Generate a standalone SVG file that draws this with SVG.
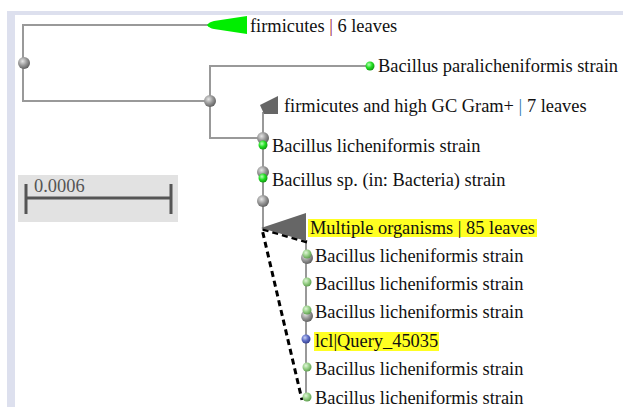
<svg xmlns="http://www.w3.org/2000/svg" width="623" height="407" viewBox="0 0 623 407">
  <defs>
    <radialGradient id="gGray" cx="0.38" cy="0.35" r="0.7">
      <stop offset="0" stop-color="#e6e6e6"/>
      <stop offset="0.5" stop-color="#9a9a9a"/>
      <stop offset="1" stop-color="#5a5a5a"/>
    </radialGradient>
    <radialGradient id="gGreen" cx="0.38" cy="0.35" r="0.7">
      <stop offset="0" stop-color="#b8ffb8"/>
      <stop offset="0.5" stop-color="#22e022"/>
      <stop offset="1" stop-color="#109010"/>
    </radialGradient>
    <radialGradient id="gPale" cx="0.38" cy="0.35" r="0.7">
      <stop offset="0" stop-color="#e0f5d8"/>
      <stop offset="0.5" stop-color="#98d088"/>
      <stop offset="1" stop-color="#5a9a4a"/>
    </radialGradient>
    <radialGradient id="gBlue" cx="0.38" cy="0.35" r="0.7">
      <stop offset="0" stop-color="#c8d0f5"/>
      <stop offset="0.5" stop-color="#6070c8"/>
      <stop offset="1" stop-color="#303a88"/>
    </radialGradient>
  </defs>
  <style>
    .br { stroke: #999; stroke-width: 2; fill: none; }
    .lbl { font-family: "Liberation Serif", "Times New Roman", serif; font-size: 18.4px; fill: #111; }
    .node { fill: url(#gGray); }
    .leaf { fill: url(#gGreen); }
    .pale { fill: url(#gPale); }
    .qry { fill: url(#gBlue); }
    .hl { fill: #ffff22; }
    .dash { stroke: #000; stroke-width: 3; stroke-dasharray: 6 4; fill: none; }
  </style>

  <rect width="623" height="407" fill="#fff"/>
  <!-- panel frame -->
  <rect x="7" y="11" width="616" height="4" fill="#dde0ee"/>
  <rect x="7" y="11" width="8" height="396" fill="#dde0ee"/>

  <!-- scale bar -->
  <g id="scale">
    <rect x="18" y="175" width="160" height="47" fill="#e2e2e2"/>
    <line x1="27" y1="198" x2="170" y2="198" stroke="#555" stroke-width="3"/>
    <line x1="26" y1="184" x2="26" y2="214" stroke="#555" stroke-width="3"/>
    <line x1="171" y1="184" x2="171" y2="214" stroke="#555" stroke-width="3"/>
    <text x="34" y="192" class="lbl" style="fill:#555">0.0006</text>
  </g>

  <g id="connectors">
    <path class="br" d="M208,25 H23 V101 H210"/>
    <path class="br" d="M370,66 H210 V138 H263"/>
    <path class="br" d="M263,112 V230"/>
    <path class="br" d="M306,241 V398"/>
    <path class="dash" d="M307,242 L262,229 L302,400"/>
  </g>

  <g id="n-root"><circle cx="24" cy="63" r="6" class="node"/></g>
  <g id="n-inner1"><circle cx="210" cy="101" r="6" class="node"/></g>

  <g id="c-firmicutes">
    <path d="M207,25 Q209,22 214,21 L247,16 L247,34 L214,29 Q209,28 207,25 Z" fill="#00ee00"/>
    <text x="250" y="32" class="lbl">firmicutes <tspan fill="#9a1c3c">|</tspan> 6 leaves</text>
  </g>

  <g id="l-paralicheniformis">
    <circle cx="370" cy="66" r="4.5" class="leaf"/>
    <text x="378" y="72" class="lbl">Bacillus paralicheniformis strain</text>
  </g>

  <g id="c-highgc">
    <path d="M260,105 L278,96 L278,114 L264,114 Z" fill="#666"/>
    <text x="284" y="112" class="lbl">firmicutes and high GC Gram+ <tspan fill="#2a78b0">|</tspan> 7 leaves</text>
  </g>

  <g id="n-inner2">
    <circle cx="263" cy="138" r="6" class="node"/>
    <circle cx="263" cy="145" r="4.5" class="leaf"/>
    <text x="272" y="152" class="lbl">Bacillus licheniformis strain</text>
  </g>

  <g id="n-inner3">
    <circle cx="263" cy="172" r="6" class="node"/>
    <circle cx="263" cy="178" r="4.5" class="leaf"/>
    <text x="272" y="186" class="lbl">Bacillus sp. (in: Bacteria) strain</text>
  </g>

  <g id="n-inner4"><circle cx="263" cy="201" r="6" class="node"/></g>

  <g id="c-multiple">
    <path d="M261,228 L306,213 L306,241 Z" fill="#666"/>
    <rect x="308" y="219" width="229" height="18" class="hl"/>
    <text x="310" y="234" class="lbl">Multiple organisms | 85 leaves</text>
  </g>

  <g id="l-lich1">
    <circle cx="307" cy="258" r="6" class="node"/>
    <circle cx="307" cy="254" r="4.5" class="pale"/>
    <text x="315" y="262" class="lbl">Bacillus licheniformis strain</text>
  </g>
  <g id="l-lich2">
    <circle cx="307" cy="282" r="4.5" class="pale"/>
    <text x="315" y="290" class="lbl">Bacillus licheniformis strain</text>
  </g>
  <g id="l-lich3">
    <circle cx="307" cy="316" r="6" class="node"/>
    <circle cx="307" cy="310" r="4.5" class="pale"/>
    <text x="315" y="318" class="lbl">Bacillus licheniformis strain</text>
  </g>
  <g id="l-query">
    <circle cx="306" cy="339" r="4.5" class="qry"/>
    <rect x="314" y="332" width="125" height="19" class="hl"/>
    <text x="315" y="347" class="lbl">lcl|Query_45035</text>
  </g>
  <g id="l-lich4">
    <circle cx="307" cy="367" r="4.5" class="pale"/>
    <text x="315" y="375" class="lbl">Bacillus licheniformis strain</text>
  </g>
  <g id="l-lich5">
    <circle cx="307" cy="397" r="4.5" class="pale"/>
    <text x="315" y="404" class="lbl">Bacillus licheniformis strain</text>
  </g>
</svg>
